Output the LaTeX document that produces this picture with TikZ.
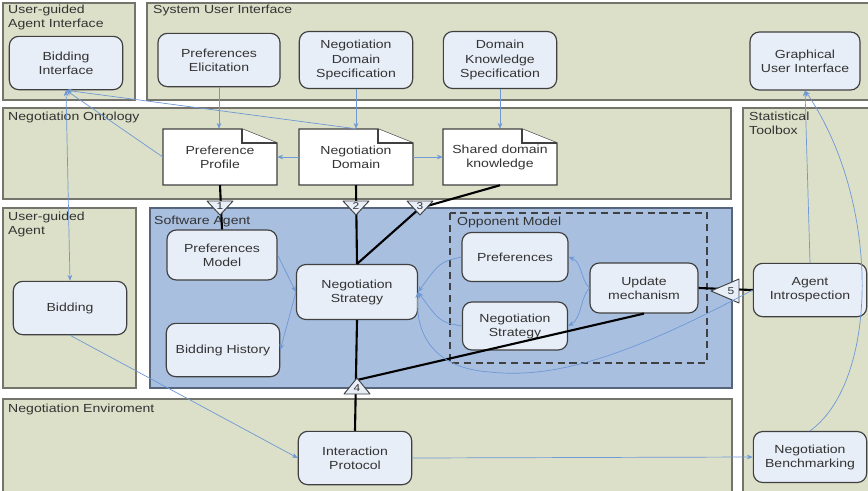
\documentclass[tikz,border=0pt]{standalone}
\usepackage{fontspec}
\setmainfont[FakeStretch=1.2]{Liberation Sans}
\usepackage{tikz}
\usetikzlibrary{arrows.meta}

\definecolor{panelfill}{HTML}{DCE0C8}
\definecolor{panelline}{HTML}{74746C}
\definecolor{agentfill}{HTML}{A8BFE0}
\definecolor{agentline}{HTML}{56657C}
\definecolor{boxfill}{HTML}{E8EEF8}
\definecolor{boxline}{HTML}{404040}
\definecolor{flowblue}{HTML}{6E98D6}
\definecolor{txt}{HTML}{333333}

% document shape: name, x, y, text
\newcommand{\docnode}[4]{%
  \filldraw[docline] (#2-57,#3-28) -- (#2+22,#3-28) -- (#2+57,#3-14) -- (#2+57,#3+28) -- (#2-57,#3+28) -- cycle;
  \draw[docline] (#2+22,#3-28) -- (#2+22,#3-14) -- (#2+57,#3-14);
  \node[doc] (#1) at (#2,#3) {#4};}

\begin{document}
\begin{tikzpicture}[x=0.03cm, y=-0.03cm,
  every node/.style={font=\fontsize{10}{12}\selectfont, text=txt},
  panel/.style={draw=panelline, fill=panelfill, line width=0.9pt},
  agentpanel/.style={draw=agentline, fill=agentfill, line width=0.9pt},
  panellabel/.style={anchor=north west, inner sep=0pt, align=left},
  box/.style={draw=boxline, fill=boxfill, rounded corners=8pt, line width=1pt, align=center, minimum width=3.4cm, minimum height=1.6cm},
  doc/.style={minimum width=3.42cm, minimum height=1.68cm, align=center},
  docline/.style={draw=boxline, fill=white, line width=1pt},
  flow/.style={draw=flowblue, line width=0.6pt, -{Stealth[length=5pt,width=4pt]}},
  link/.style={line width=1.8pt},
  tri/.style={draw=boxline, fill=boxfill, line width=0.8pt, line join=round},
  trinum/.style={inner sep=0pt, font=\fontsize{8.5}{8.5}\selectfont}]
\useasboundingbox (0,0) rectangle (868,490);

% panels
\draw[panel] (3,3) rectangle (135,100);
\draw[panel] (147,3) rectangle (870,100);
\draw[panel] (3,108) rectangle (731,199);
\draw[panel] (743,108) rectangle (870,492);
\draw[panel] (3,208) rectangle (136,388);
\draw[agentpanel] (150,208) rectangle (732,388);
\draw[panel] (3,399) rectangle (732,492);
\draw[boxline, line width=1pt, dash pattern=on 6pt off 4pt] (450,213) rectangle (707,363);

\node[panellabel] (lbui) at (8,5) {User-guided\\Agent Interface};
\node[panellabel] (lsui) at (153,5) {System User Interface};
\node[panellabel] (lont) at (8,112) {Negotiation Ontology};
\node[panellabel] (lstat) at (749,112) {Statistical\\Toolbox};
\node[panellabel] (lbag) at (8,212) {User-guided\\Agent};
\node[panellabel] (lsa) at (154,216) {Software Agent};
\node[panellabel] (lenv) at (8,404) {Negotiation Enviroment};
\node[panellabel] (lopp) at (457,217) {Opponent Model};

% interfaces
\node[box] (bi) at (66,63) {Bidding\\Interface};
\node[box, minimum width=3.66cm] (pe) at (219,60) {Preferences\\Elicitation};
\node[box, minimum height=1.71cm] (nds) at (356,60) {Negotiation\\Domain\\Specification};
\node[box, minimum height=1.71cm] (dks) at (500,60) {Domain\\Knowledge\\Specification};
\node[box, minimum width=3.3cm, minimum height=1.74cm] (gui) at (805,61) {Graphical\\User Interface};

% ontology
\docnode{prof}{220}{157}{Preference\\Profile}
\docnode{dom}{356}{157}{Negotiation\\Domain}
\docnode{shared}{500}{157}{Shared domain\\knowledge}

% agents
\node[box] (bid) at (70,308) {Bidding};
\node[box, minimum width=3.3cm, minimum height=1.5cm] (pm) at (222,255) {Preferences\\Model};
\node[box] (bh) at (223,350) {Bidding History};
\node[box, minimum width=3.63cm, minimum height=1.65cm] (ns) at (357,292) {Negotiation\\Strategy};
\node[box, minimum width=3.18cm, minimum height=1.47cm] (opp) at (515,257) {Preferences};
\node[box, minimum width=3.15cm, minimum height=1.44cm] (ons) at (515,326) {Negotiation\\Strategy};
\node[box, minimum width=3.24cm, minimum height=1.5cm] (um) at (644,288) {Update\\mechanism};
\node[box] (ai) at (810,290) {Agent\\Introspection};

% environment
\node[box] (ip) at (355,458) {Interaction\\Protocol};
\node[box, minimum height=1.53cm] (nb) at (810,457) {Negotiation\\Benchmarking};

% thick interface lines
\coordinate (c3) at (420,208);
\coordinate (c4) at (357,380);
\draw[link] (prof.south) -- (pm.north);
\draw[link] (dom.south) -- (ns.north);
\draw[link] (shared.south) -- (c3) -- (ns.north);
\draw[link] (ip.north) -- (ns.south);
\draw[link] (c4) -- (um.south);
\draw[link] (um.east) -- (ai.west);

% numbered interfaces
\foreach \n/\x in {1/220,2/356,3/420} {
  \draw[tri] (\x-13,201) -- (\x+13,201) -- (\x,215) -- cycle;
  \node[trinum] (t\n) at (\x,206.5) {\n};
}
\draw[tri] (344,394) -- (370,394) -- (357,378) -- cycle;
\node[trinum] (t4) at (357,388.5) {4};
\draw[tri] (711,291) -- (739,279) -- (739,303) -- cycle;
\node[trinum] (t5) at (731,291) {5};

% blue connectors
\draw[flow] (pe.south) -- (pe.south |- prof.north);
\draw[flow] (nds.south) -- (dom.north);
\draw[flow] (dks.south) -- (shared.north);
\draw[flow] (dom.west) -- (prof.east);
\draw[flow] (dom.east) -- (shared.west);
\draw[flow] (dom.north) -- (bi.south);
\draw[flow] (prof.west) -- (bi.south);
\draw[flow, {Stealth[length=5pt,width=4pt]}-{Stealth[length=5pt,width=4pt]}] (bi.south) -- (bid.north);
\draw[flow] (bid.south) -- (ip.west);
\draw[flow] (ip.east) -- (nb.west);
\draw[flow] (ai.north) -- (gui.south);
\draw[flow] (nb.north) .. controls (880,380) and (880,200) .. (gui.south);
\draw[flow] (pm.east) -- (ns.west);
\draw[flow] (ns.west) -- (bh.east);
\draw[flow] (opp.west) .. controls (440,262) .. (ns.east);
\draw[flow] (ons.west) .. controls (440,322) .. (ns.east);
\draw[flow] (um.west) .. controls (580,278) and (582,262) .. (opp.east);
\draw[flow] (um.west) .. controls (580,298) and (582,318) .. (ons.east);
\draw[flow] (ai.west) .. controls (640,350) and (560,380) .. (490,372) .. controls (430,368) and (415,330) .. (ns.east);
\end{tikzpicture}
\end{document}
